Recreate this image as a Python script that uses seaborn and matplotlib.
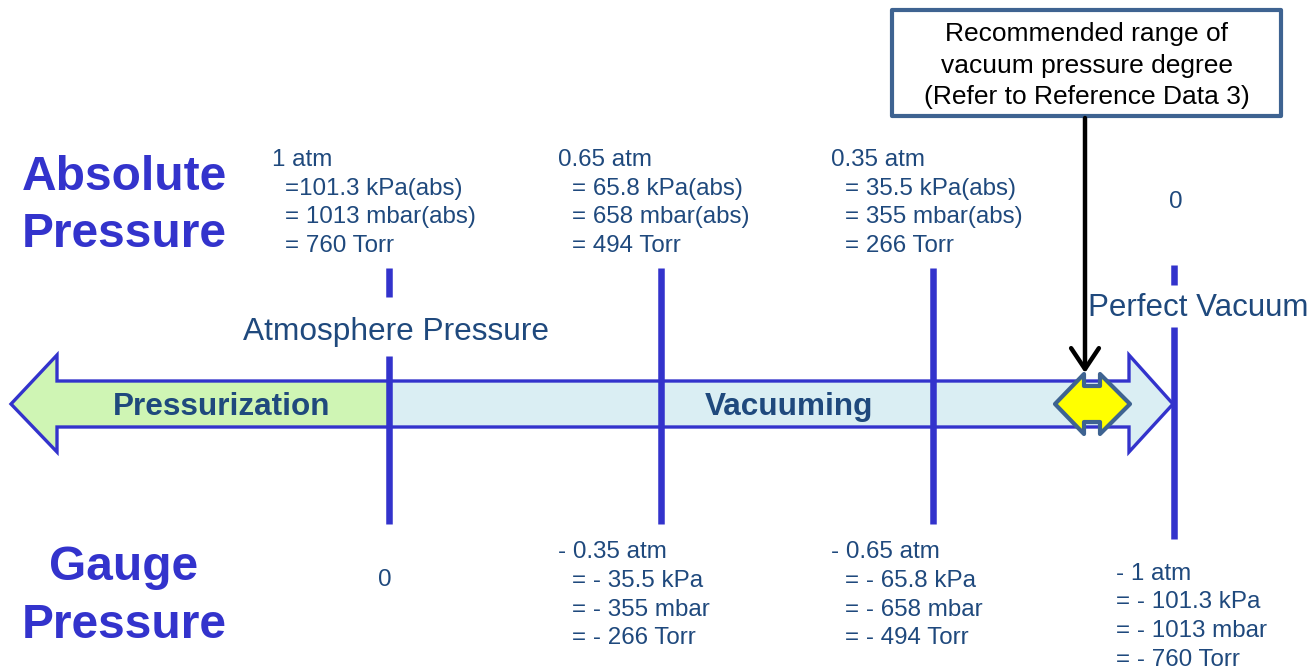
import matplotlib
matplotlib.use("Agg")
import matplotlib.pyplot as plt
from matplotlib.patches import Polygon, Rectangle
import seaborn as sns
import pandas as pd

# ---------------- data ----------------
abs_atm = ["1", "0.65", "0.35", "0"]
abs_kpa = ["101.3", "65.8", "35.5"]
abs_mbar = ["1013", "658", "355"]
abs_torr = ["760", "494", "266"]
gauge_atm = ["0", "- 0.35", "- 0.65", "- 1"]
gauge_kpa = ["- 35.5", "- 65.8", "- 101.3"]
gauge_mbar = ["- 355", "- 658", "- 1013"]
gauge_torr = ["- 266", "- 494", "- 760"]
zone_labels = ["Pressurization", "Vacuuming"]
point_labels = ["Atmosphere Pressure", "Perfect Vacuum"]
axis_labels = [["Absolute", "Pressure"], ["Gauge", "Pressure"]]
note_lines = ["Recommended range of", "vacuum pressure degree", "(Refer to Reference Data 3)"]

# ---------------- layout (pixel space) ----------------
W, H = 1315, 668
marker_x = [389, 661, 933, 1174]
TXT = "#1f497d"
BLUE = "#3333cc"
STEEL = "#3e6391"

sns.set_theme(style="white")
plt.rcParams["font.family"] = ["Liberation Sans", "DejaVu Sans"]

fig = plt.figure(figsize=(W / 100, H / 100), dpi=100)
ax = fig.add_axes([0, 0, 1, 1])

# big double-colored arrow
green_pts = [(11, 404), (57, 355), (57, 381), (389, 381), (389, 427), (57, 427), (57, 452)]
blue_pts = [(389, 381), (1129, 381), (1129, 355), (1173, 404), (1129, 452), (1129, 427), (389, 427)]
outline = [(11, 404), (57, 355), (57, 381), (1129, 381), (1129, 355), (1173, 404),
           (1129, 452), (1129, 427), (57, 427), (57, 452)]
ax.add_patch(Polygon(green_pts, closed=True, facecolor="#cff5b4", edgecolor="none", zorder=1))
ax.add_patch(Polygon(blue_pts, closed=True, facecolor="#daeef3", edgecolor="none", zorder=1))
ax.add_patch(Polygon(outline, closed=True, facecolor="none", edgecolor=BLUE, lw=2.4,
                     joinstyle="miter", zorder=2))

# vertical marker lines (seaborn lineplot, one unit per segment)
segs = [
    (marker_x[0], 268, 297), (marker_x[0], 356, 524),
    (marker_x[1], 268, 524),
    (marker_x[2], 268, 524),
    (marker_x[3], 265, 285), (marker_x[3], 327, 539),
]
rows = []
for i, (x, y0, y1) in enumerate(segs):
    rows.append({"x": x, "y": y0, "seg": i})
    rows.append({"x": x, "y": y1, "seg": i})
df = pd.DataFrame(rows)
sns.lineplot(data=df, x="x", y="y", units="seg", estimator=None, sort=False,
             color=BLUE, lw=4.7, legend=False, ax=ax, zorder=3, solid_capstyle="butt")
ax.set_xlim(0, W)
ax.set_ylim(H, 0)
ax.set_xlabel("")
ax.set_ylabel("")
ax.axis("off")

# recommended range marker (yellow double arrow)
ycen = 404
yel = [(1055, ycen), (1084, ycen - 30), (1084, ycen - 18), (1100, ycen - 18), (1100, ycen - 30),
       (1130, ycen), (1100, ycen + 30), (1100, ycen + 18), (1084, ycen + 18), (1084, ycen + 30)]
ax.add_patch(Polygon(yel, closed=True, facecolor="#ffff00", edgecolor=STEEL, lw=3.0,
                     joinstyle="round", zorder=5))

# note box + arrow
ax.add_patch(Rectangle((892, 10), 389, 106, facecolor="white", edgecolor=STEEL, lw=3.0,
                       joinstyle="round", zorder=4))
for ln, yb in zip(note_lines, [41, 72.5, 104]):
    ax.text(1087, yb, ln, ha="center", va="baseline", fontsize=19.0, color="black", zorder=6)
ax.annotate("", xy=(1085, 373), xytext=(1085, 118),
            arrowprops=dict(arrowstyle="->,head_length=0.75,head_width=0.5", lw=3.2,
                            color="black", mutation_scale=20, shrinkA=0, shrinkB=0),
            zorder=6)

# axis labels
big = dict(fontsize=34.5, fontweight="bold", color=BLUE, ha="center", va="baseline")
ax.text(124, 190, axis_labels[0][0], **big)
ax.text(124, 247, axis_labels[0][1], **big)
ax.text(124, 580, axis_labels[1][0], **big)
ax.text(124, 638, axis_labels[1][1], **big)

# zone labels
ax.text(222, 415, zone_labels[0], ha="center", va="baseline", fontsize=22.7, fontweight="bold",
        color=TXT, zorder=4)
ax.text(789, 415, zone_labels[1], ha="center", va="baseline", fontsize=22.7, fontweight="bold",
        color=TXT, zorder=4)

# point labels
ax.text(396, 340, point_labels[0], ha="center", va="baseline", fontsize=22.8, color=TXT)
ax.text(1088, 316, point_labels[1], ha="left", va="baseline", fontsize=22.5, color=TXT)

FS = 17.4
small = dict(fontsize=FS, color=TXT, va="baseline")

# absolute pressure values
top_base = [165.5, 194.5, 223, 251.5]
first_x = [272, 558, 831]
sub_x = [285, 572, 845]
for i in range(3):
    ax.text(first_x[i], top_base[0], f"{abs_atm[i]} atm", ha="left", **small)
    eq = "=" if i == 0 else "= "
    ax.text(sub_x[i], top_base[1], f"{eq}{abs_kpa[i]} kPa(abs)", ha="left", **small)
    ax.text(sub_x[i], top_base[2], f"= {abs_mbar[i]} mbar(abs)", ha="left", **small)
    ax.text(sub_x[i], top_base[3], f"= {abs_torr[i]} Torr", ha="left", **small)
ax.text(1176, 208, abs_atm[3], ha="center", **small)

# gauge pressure values
ax.text(385, 586, gauge_atm[0], ha="center", **small)
bot_base = [558, 587, 615.5, 644]
for j, i in enumerate([1, 2]):
    ax.text(first_x[i], bot_base[0], f"{gauge_atm[i]} atm", ha="left", **small)
    ax.text(sub_x[i], bot_base[1], f"= {gauge_kpa[j]} kPa", ha="left", **small)
    ax.text(sub_x[i], bot_base[2], f"= {gauge_mbar[j]} mbar", ha="left", **small)
    ax.text(sub_x[i], bot_base[3], f"= {gauge_torr[j]} Torr", ha="left", **small)
last_base = [580, 608.5, 637, 665.5]
ax.text(1116, last_base[0], f"{gauge_atm[3]} atm", ha="left", **small)
ax.text(1116, last_base[1], f"= {gauge_kpa[2]} kPa", ha="left", **small)
ax.text(1116, last_base[2], f"= {gauge_mbar[2]} mbar", ha="left", **small)
ax.text(1116, last_base[3], f"= {gauge_torr[2]} Torr", ha="left", **small)

fig.savefig("out.png", dpi=100, facecolor="white")
